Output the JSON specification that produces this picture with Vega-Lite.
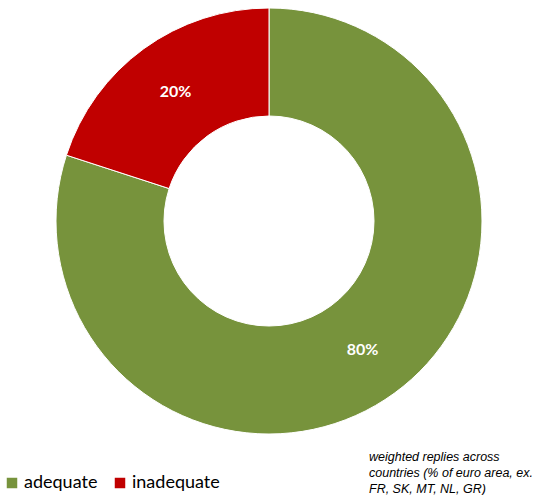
{
  "$schema": "https://vega.github.io/schema/vega-lite/v6.json",
  "width": 538,
  "height": 442,
  "padding": {"left": 0, "top": 0, "right": 2, "bottom": 53},
  "autosize": {"type": "none"},
  "background": "white",
  "config": {"view": {"stroke": null}},
  "title": {
    "text": ["weighted replies across", "countries (% of euro area, ex.", "FR, SK, MT, NL, GR)"],
    "orient": "bottom",
    "anchor": "end",
    "align": "left",
    "baseline": "top",
    "dx": -169,
    "offset": -41,
    "font": "Liberation Sans",
    "fontStyle": "italic",
    "fontWeight": "normal",
    "fontSize": 12.5,
    "lineHeight": 16,
    "color": "#000000"
  },
  "data": {
    "values": [
      {"category": "adequate", "value": 80, "label": "80%", "idx": 1},
      {"category": "inadequate", "value": 20, "label": "20%", "idx": 2}
    ]
  },
  "encoding": {
    "theta": {"field": "value", "type": "quantitative", "stack": true},
    "order": {"field": "idx", "type": "quantitative"}
  },
  "layer": [
    {
      "mark": {"type": "arc", "outerRadius": 213, "innerRadius": 105, "stroke": "white", "strokeWidth": 1},
      "encoding": {
        "color": {
          "field": "category",
          "type": "nominal",
          "scale": {"domain": ["adequate", "inadequate"], "range": ["#77933C", "#C00000"]},
          "legend": {
            "title": null,
            "orient": "none",
            "legendX": 3,
            "legendY": 474,
            "direction": "horizontal",
            "symbolType": "square",
            "symbolSize": 110,
            "symbolStrokeWidth": 0,
            "labelFont": "Lato",
            "labelFontSize": 18,
            "labelColor": "#000000",
            "labelOffset": 3,
            "columnPadding": 13
          }
        }
      }
    },
    {
      "mark": {"type": "text", "radius": 159, "font": "Lato", "fontWeight": "bold", "fontSize": 16, "color": "white"},
      "encoding": {"text": {"field": "label"}}
    }
  ]
}
